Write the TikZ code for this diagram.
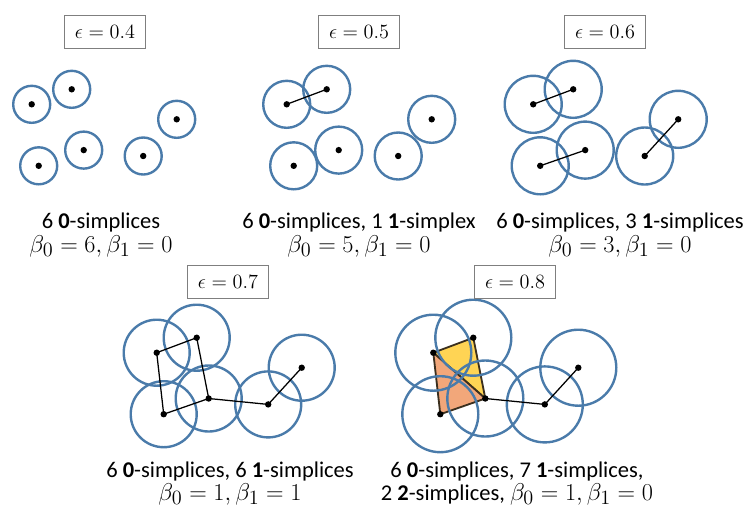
\documentclass[tikz,border=0pt]{standalone}
\usepackage[no-math]{fontspec}
\setmainfont{Carlito}
\usepackage{tikz}
\usetikzlibrary{positioning}
\usepackage{xcolor}
\definecolor{ballblue}{HTML}{4A7BAA}
\definecolor{triyellow}{HTML}{FFD454}
\definecolor{triorange}{HTML}{F2A77A}
\definecolor{tribrown}{HTML}{3B2F1E}
\definecolor{boxgray}{HTML}{7F7F7F}
\newcommand{\betaline}[1]{{\fontsize{19}{21}\selectfont$#1$}}
\tikzset{
  ball/.style={draw=ballblue, line width=1.7pt},
  vert/.style={fill=black},
  link/.style={line width=0.9pt, black},
  face/.style={fill=#1, draw=tribrown, line width=1.3pt, line join=round},
  epsbox/.style={
    rectangle, draw=boxgray, line width=0.8pt,
    minimum width=58pt, minimum height=24pt,
    font=\fontsize{15.5}{17}\selectfont
  },
  caption/.style={anchor=base, inner sep=0pt,
    font=\fontsize{16}{18}\selectfont}
}

\begin{document}
\begin{tikzpicture}[x=0.025cm, y=-0.025cm]
  \useasboundingbox (0,0) rectangle (748,509);
  % Punktwolken (gleiche Lage in allen Feldern)
  \foreach \nm/\ox/\oy in {A/31.7/104.3, B/286.7/104.3, C/533.2/104.3,
                           D/156.7/352.7, E/433.3/352.7} {
    \coordinate (\nm1) at (\ox,\oy);
    \coordinate (\nm2) at (\ox+40,\oy-15);
    \coordinate (\nm3) at (\ox+52,\oy+45.8);
    \coordinate (\nm4) at (\ox+7,\oy+61.5);
    \coordinate (\nm5) at (\ox+111.5,\oy+51.7);
    \coordinate (\nm6) at (\ox+145,\oy+15);
  }
  % 2-Simplizes bei eps = 0.8
  \filldraw[face=triyellow] (E1) -- (E2) -- (E3) -- cycle;
  \filldraw[face=triorange] (E1) -- (E3) -- (E4) -- cycle;
  % Kugeln
  \foreach \nm/\r in {A/18.5, B/23.5, C/28.5, D/33, E/38} {
    \foreach \k in {1,...,6}
      \draw[ball] (\nm\k) circle[radius=\r];
  }
  % 1-Simplizes
  \draw[link] (B1) -- (B2);
  \draw[link] (C1) -- (C2);
  \draw[link] (C4) -- (C3);
  \draw[link] (C5) -- (C6);
  \draw[link] (D1) -- (D2) -- (D3) -- (D4) -- cycle;
  \draw[link] (D3) -- (D5) -- (D6);
  \draw[link] (E3) -- (E5) -- (E6);
  % Punkte
  \foreach \nm in {A,B,C,D,E} {
    \foreach \k in {1,...,6}
      \fill[vert] (\nm\k) circle[radius=3.2];
  }
  % Radien
  \node[epsbox] (epsA) at (105,32) {$\epsilon = 0.4$};
  \node[epsbox] (epsB) at (359,32) {$\epsilon = 0.5$};
  \node[epsbox] (epsC) at (605,32) {$\epsilon = 0.6$};
  \node[epsbox] (epsD) at (228,282) {$\epsilon = 0.7$};
  \node[epsbox] (epsE) at (515,282) {$\epsilon = 0.8$};
  % Beschriftungen
  \node[caption] (capA1) at (101,228) {6 \textbf{0}-simplices};
  \node[caption] (capA2) at (101,252) {\betaline{\beta_0 = 6, \beta_1 = 0}};
  \node[caption] (capB1) at (359,228)
    {6 \textbf{0}-simplices, 1 \textbf{1}-simplex};
  \node[caption] (capB2) at (359,252) {\betaline{\beta_0 = 5, \beta_1 = 0}};
  \node[caption] (capC1) at (620,228)
    {6 \textbf{0}-simplices, 3 \textbf{1}-simplices};
  \node[caption] (capC2) at (620,252) {\betaline{\beta_0 = 3, \beta_1 = 0}};
  \node[caption] (capD1) at (230,477)
    {6 \textbf{0}-simplices, 6 \textbf{1}-simplices};
  \node[caption] (capD2) at (230,500) {\betaline{\beta_0 = 1, \beta_1 = 1}};
  \node[caption] (capE1) at (517,477)
    {6 \textbf{0}-simplices, 7 \textbf{1}-simplices,};
  \node[caption] (capE2) at (517,500)
    {2 \textbf{2}-simplices, \betaline{\beta_0 = 1, \beta_1 = 0}};
\end{tikzpicture}
\end{document}
